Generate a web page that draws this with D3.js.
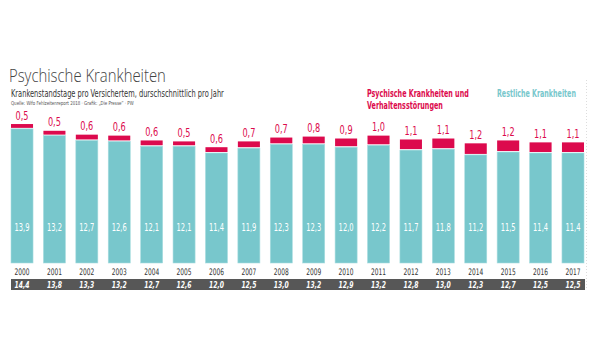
<!DOCTYPE html>
<html>
<head>
<meta charset="utf-8">
<script src="https://cdn.jsdelivr.net/npm/d3@7/dist/d3.min.js"></script>
<style>
  body { margin: 0; background: #fff; }
  text { font-family: "DejaVu Sans", sans-serif; font-stretch: condensed; }
  .light { font-family: "Open Sans", "Lato", sans-serif; font-stretch: normal; }
</style>
</head>
<body>
<div id="chart"></div>
<script>
const years = ['2000', '2001', '2002', '2003', '2004', '2005', '2006', '2007', '2008',
  '2009', '2010', '2011', '2012', '2013', '2014', '2015', '2016', '2017'];
const restliche = [13.9, 13.2, 12.7, 12.6, 12.1, 12.1, 11.4, 11.9, 12.3,
  12.3, 12.0, 12.2, 11.7, 11.8, 11.2, 11.5, 11.4, 11.4];
const psychische = [0.5, 0.5, 0.6, 0.6, 0.6, 0.5, 0.6, 0.7, 0.7,
  0.8, 0.9, 1.0, 1.1, 1.1, 1.2, 1.2, 1.1, 1.1];
const gesamt = [14.4, 13.8, 13.3, 13.2, 12.7, 12.6, 12.0, 12.5, 13.0,
  13.2, 12.9, 13.2, 12.8, 13.0, 12.3, 12.7, 12.5, 12.5];

const width = 600, height = 360;
const red = '#dc0a4d', teal = '#78c7cc';
const fmt = v => v.toFixed(1).replace('.', ',');

const svg = d3.select('#chart').append('svg')
  .attr('width', width)
  .attr('height', height);

// squeeze text horizontally to a given width (the original uses a condensed face)
function squeeze(sel, w) {
  sel.each(function () {
    const t = d3.select(this);
    const s = w / this.getComputedTextLength();
    const px = +t.attr('x');
    t.attr('transform', `translate(${px},0) scale(${s},1) translate(${-px},0)`);
  });
  return sel;
}

// titles
squeeze(svg.append('text').attr('class', 'light').attr('x', 9).attr('y', 82)
  .attr('font-size', 19).attr('fill', '#444').attr('font-weight', 300)
  .text('Psychische Krankheiten'), 157);
squeeze(svg.append('text').attr('x', 11).attr('y', 97)
  .attr('font-size', 10).attr('fill', '#333')
  .text('Krankenstandstage pro Versichertem, durschschnittlich pro Jahr'), 213);
squeeze(svg.append('text').attr('x', 11).attr('y', 105)
  .attr('font-size', 5.5).attr('fill', '#555')
  .text('Quelle: Wifo Fehlzeitenreport 2018 · Grafik: „Die Presse“ · PW'), 123);

// legend
squeeze(svg.append('text').attr('x', 367).attr('y', 97)
  .attr('font-size', 10).attr('fill', red).attr('font-weight', 'bold')
  .text('Psychische Krankheiten und'), 102);
squeeze(svg.append('text').attr('x', 367).attr('y', 109)
  .attr('font-size', 10).attr('fill', red).attr('font-weight', 'bold')
  .text('Verhaltensstörungen'), 76);
squeeze(svg.append('text').attr('x', 497).attr('y', 97)
  .attr('font-size', 10).attr('fill', teal).attr('font-weight', 'bold')
  .text('Restliche Krankheiten'), 79);

// scales
const x = d3.scaleBand().domain(years).range([11, 584]).paddingInner(0.32).paddingOuter(0);
const baseY = 263;
const y = d3.scaleLinear().domain([0, 15]).range([baseY, baseY - 15 * 9.65]);

const data = years.map((yr, i) => ({ yr, rest: restliche[i], psych: psychische[i], total: gesamt[i] }));

// totals band (drawn first so the numbers sit on top)
svg.append('rect').attr('x', 11).attr('y', 279).attr('width', 574).attr('height', 11).attr('fill', '#575757');

const g = svg.append('g');
const bar = g.selectAll('.bar').data(data).enter().append('g').attr('class', 'bar');
const cx = d => x(d.yr) + x.bandwidth() / 2;

bar.append('rect')
  .attr('x', d => x(d.yr))
  .attr('width', x.bandwidth())
  .attr('y', d => y(d.rest))
  .attr('height', d => y(0) - y(d.rest))
  .attr('fill', teal)
  .attr('stroke', '#a9dde0').attr('stroke-width', 0.6);

bar.append('rect')
  .attr('x', d => x(d.yr))
  .attr('width', x.bandwidth())
  .attr('y', d => y(d.rest + d.psych))
  .attr('height', d => y(d.rest) - y(d.rest + d.psych) - 1)
  .attr('fill', red);

// red labels above bars
squeeze(bar.append('text')
  .attr('x', cx)
  .attr('y', d => y(d.rest + d.psych) - 4.5)
  .attr('text-anchor', 'middle')
  .attr('font-size', 12).attr('fill', red)
  .text(d => fmt(d.psych)), 13);

// white labels inside
squeeze(bar.append('text')
  .attr('x', cx)
  .attr('y', 231)
  .attr('text-anchor', 'middle')
  .attr('font-size', 10.5).attr('fill', '#fff')
  .text(d => fmt(d.rest)), 15);

// year labels
squeeze(bar.append('text')
  .attr('x', cx)
  .attr('y', 275)
  .attr('text-anchor', 'middle')
  .attr('font-size', 9).attr('fill', '#333')
  .text(d => d.yr), 15);

// totals
squeeze(bar.append('text')
  .attr('x', cx)
  .attr('y', 288)
  .attr('text-anchor', 'middle')
  .attr('font-size', 9.5).attr('fill', '#fff')
  .attr('font-style', 'italic').attr('font-weight', 'bold')
  .text(d => fmt(d.total)), 15);

// faint dotted line at right
svg.append('line').attr('x1', 586.5).attr('x2', 586.5).attr('y1', 80).attr('y2', 290)
  .attr('stroke', '#ddd').attr('stroke-dasharray', '1,2');
</script>
</body>
</html>
